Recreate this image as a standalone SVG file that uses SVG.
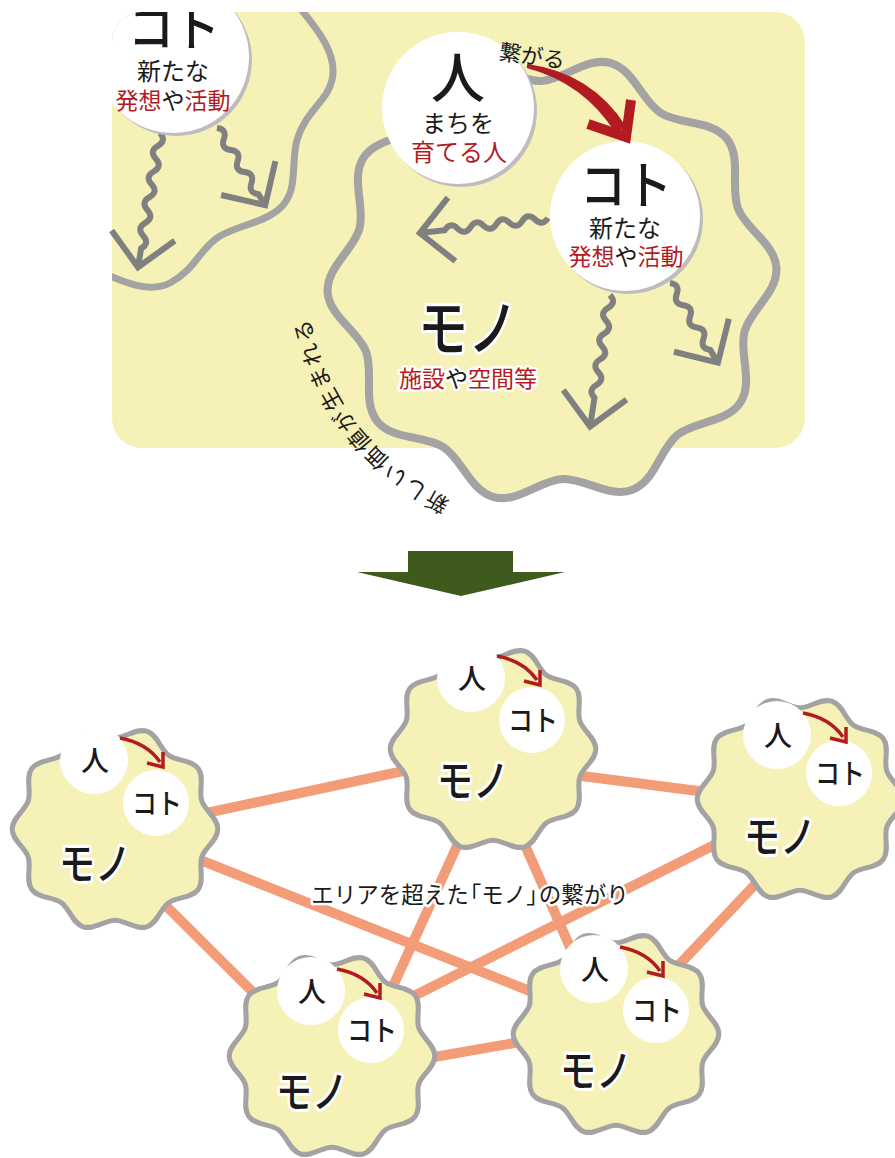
<svg xmlns="http://www.w3.org/2000/svg" width="895" height="1158" viewBox="0 0 895 1158">
<style>
.jp{font-family:"Noto Sans CJK JP","Noto Sans",sans-serif;}
.b{font-weight:500}
.blk{fill:#1a1a1a}
.red{fill:#b31b23}
.halo{stroke:#fff;stroke-width:5;stroke-linejoin:round;paint-order:stroke}
.blob{fill:#f6f1b7;stroke:#a3a3a3}
.sm{stroke-width:5.2}
.wc{fill:#fff}
.sh{fill:#bdbdbd}
.garrow{fill:none;stroke:#808080;stroke-width:6;stroke-linejoin:miter}
.link{stroke:#f39c78;stroke-width:10;fill:none}
</style>
<defs>
<path id="blobShape" d="M106,0 C106,11.5 92.644,19.062 89.399,29.048 C86.154,39.034 92.516,53.001 85.756,62.305 C78.996,71.609 63.747,69.876 55.252,76.048 C46.757,82.22 43.693,97.258 32.756,100.812 C21.819,104.366 10.5,94 0,94 C-10.5,94 -21.819,104.366 -32.756,100.812 C-43.693,97.258 -46.757,82.22 -55.252,76.048 C-63.747,69.876 -78.996,71.609 -85.756,62.305 C-92.516,53.001 -86.154,39.034 -89.399,29.048 C-92.644,19.062 -106,11.5 -106,0 C-106,-11.5 -92.644,-19.062 -89.399,-29.048 C-86.154,-39.034 -92.516,-53.001 -85.756,-62.305 C-78.996,-71.609 -63.747,-69.876 -55.252,-76.048 C-46.757,-82.22 -43.693,-97.258 -32.756,-100.812 C-21.819,-104.366 -10.5,-94 0,-94 C10.5,-94 21.819,-104.366 32.756,-100.812 C43.693,-97.258 46.757,-82.22 55.252,-76.048 C63.747,-69.876 78.996,-71.609 85.756,-62.305 C92.516,-53.001 86.154,-39.034 89.399,-29.048 C92.644,-19.062 106,-11.5 106,0 Z"/>
<clipPath id="panelClip"><rect x="112" y="12" width="693" height="436" rx="30"/></clipPath>
<g id="miniArrow" fill="none" stroke="#b31b23" stroke-width="3.5">
<path d="M26,-22 Q53,-17 66,2"/>
<path d="M53,3 L69,7 L69,-8"/>
</g>
<path id="arcText" d="M515.7,521.1 A255,255 0 0 1 306,247.8" fill="none"/>
</defs>

<!-- top panel -->
<g id="panel">
<rect x="112" y="12" width="693" height="436" rx="30" fill="#f6f1b7"/>
</g>
<g id="neighbor-mono" clip-path="url(#panelClip)">
<path d="M300,8 C318,30 338,55 332,80 C328,100 305,112 297,140 C290,165 300,192 278,210 C262,223 240,225 220,236 C200,248 195,270 170,283 C152,292 130,285 108,275" fill="none" stroke="#a3a3a3" stroke-width="7"/>
</g>
<g id="prev-arrows">
<path class="garrow" transform="translate(160,133) rotate(99.3)" d="M0,0 q6.5,-8 13,0 t13,0 t13,0 t13,0 t13,0 t13,0 t13,0 t13,0 t13,0 L136,0 M104,-32 L136,0 L104,32"/>
<path class="garrow" transform="translate(217,128) rotate(58)" d="M0,0 q6.5,-8 13,0 t13,0 t13,0 t13,0 t13,0 t13,0 L91,0 M59,-32 L91,0 L59,32"/>
</g>
<g id="node-koto-prev" clip-path="url(#panelClip)">
<circle class="sh" cx="176" cy="60" r="76"/>
<circle class="wc" cx="173" cy="57" r="76"/>
<text class="jp blk b" transform="translate(174,46) scale(1,1.12)" font-size="46" text-anchor="middle">コト</text>
<text class="jp blk" x="173" y="80" font-size="24" text-anchor="middle">新たな</text>
<text class="jp" x="173" y="109" font-size="23" text-anchor="middle"><tspan class="red">発想</tspan><tspan class="blk">や</tspan><tspan class="red">活動</tspan></text>
</g>

<g id="node-mono">
<use href="#blobShape" class="blob" stroke-width="3.8" transform="translate(552,280) rotate(-3) scale(2.12)"/>
<text class="jp blk halo b" transform="translate(468,351) scale(1,1.22)" font-size="50" text-anchor="middle">モノ</text>
<text class="jp halo" x="468" y="387" font-size="23" text-anchor="middle"><tspan class="red">施設</tspan><tspan class="blk">や</tspan><tspan class="red">空間等</tspan></text>
</g>
<g id="arc-label">
<text class="jp blk" font-size="22" letter-spacing="2"><textPath href="#arcText" startOffset="50%" text-anchor="middle">新しい価値が生まれる</textPath></text>
</g>

<g id="koto-arrows">
<path class="garrow" transform="translate(548,218) rotate(173.3)" d="M0,0 q6.5,-8 13,0 t13,0 t13,0 t13,0 t13,0 t13,0 t13,0 t13,0 L129,0 M97,-32 L129,0 L97,32"/>
<path class="garrow" transform="translate(610,295) rotate(98.6)" d="M0,0 q6.5,-8 13,0 t13,0 t13,0 t13,0 t13,0 t13,0 t13,0 t13,0 L133,0 M101,-32 L133,0 L101,32"/>
<path class="garrow" transform="translate(670,283) rotate(59)" d="M0,0 q6.5,-8 13,0 t13,0 t13,0 t13,0 t13,0 t13,0 L93,0 M61,-32 L93,0 L61,32"/>
</g>

<g id="node-hito">
<circle class="sh" cx="461" cy="111" r="76"/>
<circle class="wc" cx="458" cy="108" r="76"/>
<text class="jp blk b" x="458" y="98" font-size="54" text-anchor="middle">人</text>
<text class="jp blk" x="458" y="132" font-size="24" text-anchor="middle">まちを</text>
<text class="jp red" x="459" y="161" font-size="24" text-anchor="middle">育てる人</text>
</g>

<g id="node-koto">
<circle class="sh" cx="628" cy="219" r="75"/>
<circle class="wc" cx="625" cy="216" r="75"/>
<text class="jp blk b" transform="translate(626,204) scale(1,1.12)" font-size="46" text-anchor="middle">コト</text>
<text class="jp blk" x="625" y="237" font-size="24" text-anchor="middle">新たな</text>
<text class="jp" x="626" y="265" font-size="23" text-anchor="middle"><tspan class="red">発想</tspan><tspan class="blk">や</tspan><tspan class="red">活動</tspan></text>
</g>

<g id="connect-arrow">
<path d="M527.3,64 Q592,73 626,126.5 L615.8,133.5 Q584,83 526.7,68 Z" fill="#b31b23"/>
<path d="M588,124 L626,137 L631,100" fill="none" stroke="#b31b23" stroke-width="10" stroke-linejoin="miter"/>
<text class="jp blk" x="532" y="64" font-size="22" text-anchor="middle" transform="rotate(8 532 57)">繋がる</text>
</g>

<!-- transition arrow -->
<g id="down-arrow">
<path d="M408,551 H513 V572 H565 L461,596 L357,572 H408 Z" fill="#3e5b1d"/>
</g>

<!-- bottom network -->
<g id="connectors">
<line class="link" x1="150" y1="825" x2="450" y2="761"/>
<line class="link" x1="150" y1="840" x2="570" y2="1007"/>
<line class="link" x1="130" y1="870" x2="300" y2="1039"/>
<line class="link" x1="520" y1="768" x2="760" y2="799"/>
<line class="link" x1="478" y1="800" x2="373" y2="1030"/>
<line class="link" x1="505" y1="800" x2="589" y2="990"/>
<line class="link" x1="760" y1="822" x2="400" y2="1003"/>
<line class="link" x1="780" y1="858" x2="660" y2="985"/>
<line class="link" x1="400" y1="1063" x2="560" y2="1035"/>
</g>
<g id="network-label">
<text class="jp blk halo" x="470" y="903" font-size="22.5" text-anchor="middle">エリアを超えた<tspan dx="-10">「モノ」</tspan><tspan dx="-10">の繋がり</tspan></text>
</g>

<g id="node-a">
<use href="#blobShape" class="blob sm" transform="translate(115,829) scale(0.97)"/>
<circle class="wc" cx="94" cy="760" r="34"/>
<circle class="wc" cx="156" cy="803" r="33"/>
<use href="#miniArrow" transform="translate(94,760)"/>
<text class="jp blk b" x="95" y="771" font-size="28" text-anchor="middle">人</text>
<text class="jp blk b" transform="translate(157,814) scale(1,1.12)" font-size="25" text-anchor="middle">コト</text>
<text class="jp blk halo b" transform="translate(95,880) scale(1,1.22)" font-size="36" text-anchor="middle">モノ</text>
</g>
<g id="node-b">
<use href="#blobShape" class="blob sm" transform="translate(493,749) scale(0.97)"/>
<circle class="wc" cx="471" cy="678" r="34"/>
<circle class="wc" cx="532" cy="720" r="33"/>
<use href="#miniArrow" transform="translate(471,678)"/>
<text class="jp blk b" x="472" y="689" font-size="28" text-anchor="middle">人</text>
<text class="jp blk b" transform="translate(533,731) scale(1,1.12)" font-size="25" text-anchor="middle">コト</text>
<text class="jp blk halo b" transform="translate(473,797) scale(1,1.22)" font-size="36" text-anchor="middle">モノ</text>
</g>
<g id="node-c">
<use href="#blobShape" class="blob sm" transform="translate(800,799) scale(0.97)"/>
<circle class="wc" cx="777" cy="735" r="34"/>
<circle class="wc" cx="839" cy="773" r="33"/>
<use href="#miniArrow" transform="translate(777,735)"/>
<text class="jp blk b" x="778" y="746" font-size="28" text-anchor="middle">人</text>
<text class="jp blk b" transform="translate(840,784) scale(1,1.12)" font-size="25" text-anchor="middle">コト</text>
<text class="jp blk halo b" transform="translate(780,853) scale(1,1.22)" font-size="36" text-anchor="middle">モノ</text>
</g>
<g id="node-d">
<use href="#blobShape" class="blob sm" transform="translate(332,1056) scale(0.97)"/>
<circle class="wc" cx="311" cy="991" r="34"/>
<circle class="wc" cx="371" cy="1030" r="33"/>
<use href="#miniArrow" transform="translate(311,991)"/>
<text class="jp blk b" x="312" y="1002" font-size="28" text-anchor="middle">人</text>
<text class="jp blk b" transform="translate(372,1041) scale(1,1.12)" font-size="25" text-anchor="middle">コト</text>
<text class="jp blk halo b" transform="translate(312,1108) scale(1,1.22)" font-size="36" text-anchor="middle">モノ</text>
</g>
<g id="node-e">
<use href="#blobShape" class="blob sm" transform="translate(616,1034) scale(0.97)"/>
<circle class="wc" cx="594" cy="969" r="34"/>
<circle class="wc" cx="656" cy="1010" r="33"/>
<use href="#miniArrow" transform="translate(594,969)"/>
<text class="jp blk b" x="595" y="980" font-size="28" text-anchor="middle">人</text>
<text class="jp blk b" transform="translate(657,1021) scale(1,1.12)" font-size="25" text-anchor="middle">コト</text>
<text class="jp blk halo b" transform="translate(596,1087) scale(1,1.22)" font-size="36" text-anchor="middle">モノ</text>
</g>
</svg>
